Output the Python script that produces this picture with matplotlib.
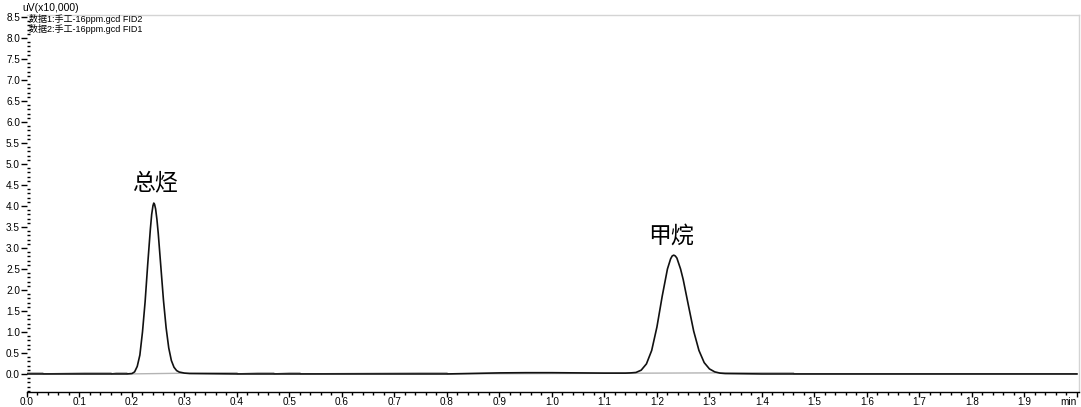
"""Chromatogram of total hydrocarbons and methane (FID2 / FID1 traces)."""

import matplotlib

matplotlib.use("Agg")
import matplotlib.pyplot as plt
from matplotlib.ticker import MultipleLocator, FixedLocator

plt.rcParams["font.family"] = ["Liberation Sans", "Noto Sans CJK SC", "DejaVu Sans"]

# FID2 trace (black), time in min, signal in uV x10,000
fid2_t = [0.00, 0.10, 0.19, 0.200, 0.205, 0.210, 0.215, 0.220, 0.225, 0.230, 0.235,
          0.2375, 0.240, 0.2415, 0.243, 0.245, 0.2475, 0.250, 0.255, 0.260, 0.265,
          0.270, 0.275, 0.280, 0.285, 0.290, 0.300, 0.310, 0.40, 0.50, 0.60, 0.70,
          0.80, 0.86, 0.90, 0.95, 1.00, 1.05, 1.10, 1.140, 1.150, 1.160, 1.170,
          1.180, 1.190, 1.200, 1.210, 1.220, 1.226, 1.229, 1.232, 1.235, 1.238,
          1.245, 1.250, 1.260, 1.270, 1.280, 1.290, 1.300, 1.310, 1.320, 1.330,
          1.40, 1.50, 1.70, 2.00]
fid2_v = [0.00, 0.00, 0.00, 0.01, 0.05, 0.18, 0.45, 1.00, 1.72, 2.62, 3.45,
          3.80, 4.01, 4.07, 4.04, 3.93, 3.68, 3.35, 2.55, 1.75, 1.10,
          0.62, 0.32, 0.16, 0.08, 0.045, 0.02, 0.01, 0.00, 0.00, 0.00, 0.00,
          0.00, 0.015, 0.025, 0.03, 0.03, 0.025, 0.02, 0.02, 0.025, 0.035, 0.09,
          0.24, 0.56, 1.12, 1.85, 2.50, 2.74, 2.81, 2.83, 2.81, 2.76,
          2.50, 2.25, 1.63, 1.02, 0.56, 0.27, 0.12, 0.05, 0.02, 0.01,
          0.00, 0.00, 0.00, 0.00]

# FID1 trace (grey), mostly hidden under the FID2 baseline
fid1_t = [0.00, 0.03, 0.031, 0.11, 0.16, 0.161, 0.17, 0.19, 0.191, 0.38, 0.40,
          0.401, 0.44, 0.47, 0.471, 0.50, 0.52, 0.521, 0.75, 0.80, 0.801, 1.40,
          1.46, 1.461, 2.00]
fid1_v = [0.03, 0.03, 0.00, 0.03, 0.03, 0.00, 0.03, 0.03, 0.00, 0.03, 0.03,
          0.00, 0.03, 0.03, 0.00, 0.03, 0.03, 0.00, 0.03, 0.03, 0.00, 0.03,
          0.03, 0.00, 0.00]

peak_names = ["总烃", "甲烷"]
peak_label_pos = [(0.243, 4.55), (1.226, 3.29)]

series_names = ["数据1:手工-16ppm.gcd FID2", "数据2:手工-16ppm.gcd FID1"]

x_ticks = [0.0, 0.1, 0.2, 0.3, 0.4, 0.5, 0.6, 0.7, 0.8, 0.9, 1.0,
           1.1, 1.2, 1.3, 1.4, 1.5, 1.6, 1.7, 1.8, 1.9, 2.0]
x_tick_labels = [f"{v:.1f}" for v in x_ticks[:-1]] + ["min"]
y_ticks = [i * 0.5 for i in range(18)]


def main() -> None:
    fig = plt.figure(figsize=(10.81, 4.07), dpi=100)
    ax = fig.add_axes([27 / 1081, 1 - 392 / 407, 1052 / 1081, 377 / 407])

    ax.plot(fid1_t, fid1_v, color="#b4b4b4", lw=1.0, zorder=2)
    ax.plot(fid2_t, fid2_v, color="#111111", lw=1.2, zorder=3)

    for name, (tx, ty) in zip(peak_names, peak_label_pos):
        ax.text(tx, ty, name, ha="center", va="center", fontsize=16.5,
                fontweight="light", family=["Noto Sans CJK SC", "DejaVu Sans"])

    ax.set_xlim(0.0, 2.004)
    ax.set_ylim(-0.43, 8.55)

    ax.xaxis.set_major_locator(FixedLocator(x_ticks))
    ax.set_xticklabels(x_tick_labels)
    ax.get_xticklabels()[-1].set_horizontalalignment("right")
    ax.xaxis.set_minor_locator(MultipleLocator(0.02))
    ax.yaxis.set_major_locator(FixedLocator(y_ticks))
    ax.set_yticklabels([f"{v:.1f}" for v in y_ticks])
    ax.yaxis.set_minor_locator(MultipleLocator(0.1))

    ax.tick_params(axis="x", which="major", direction="out", length=3.5, width=1,
                   pad=0, labelsize=7.2, color="black")
    ax.tick_params(axis="x", which="minor", direction="out", length=2, width=1)
    ax.tick_params(axis="y", which="major", direction="out", length=4, width=1,
                   pad=1, labelsize=7.2)
    ax.tick_params(axis="y", which="minor", direction="in", length=2, width=1)

    ax.spines["left"].set_visible(False)
    ax.spines["bottom"].set_color("black")
    ax.spines["bottom"].set_linewidth(1.0)
    for side in ("top", "right"):
        ax.spines[side].set_color("#d4d4d4")
        ax.spines[side].set_linewidth(1.0)

    fig.text(22 / 1081, 1 - 8 / 407, "uV(x10,000)", fontsize=7.5, va="center", ha="left")
    for i, name in enumerate(series_names):
        fig.text(29 / 1081, 1 - (19 + 10 * i) / 407, name, fontsize=6.5,
                 va="center", ha="left")

    fig.savefig("out.png", dpi=100)
    plt.close(fig)


if __name__ == "__main__":
    main()
